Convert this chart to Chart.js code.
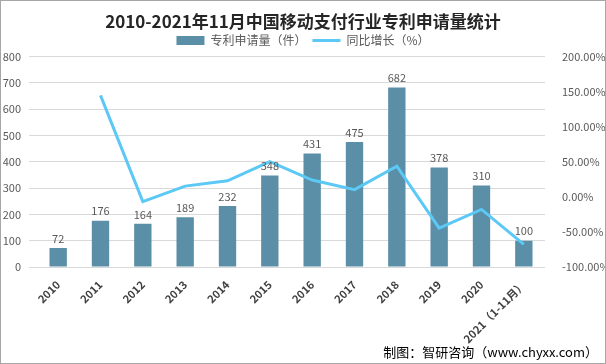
<!DOCTYPE html>
<html>
<head>
<meta charset="utf-8">
<script src="https://cdn.jsdelivr.net/npm/chart.js@4/dist/chart.umd.min.js"></script>
<style>
  html, body { margin: 0; padding: 0; background: #fff; }
  #wrap { width: 606px; height: 364px; }
</style>
</head>
<body>
<div id="wrap"><canvas id="myChart" width="606" height="364"></canvas></div>
<script>
// 数据
var years = ['2010', '2011', '2012', '2013', '2014', '2015', '2016', '2017', '2018', '2019', '2020', '2021（1-11月）'];
var shenqing = [72, 176, 164, 189, 232, 348, 431, 475, 682, 378, 310, 100];
var zengzhang = [null, 144.44, -6.82, 15.24, 22.75, 50.00, 23.85, 10.21, 43.58, -44.57, -17.99, -67.74];

var fontCN = '"Noto Sans CJK SC", "Noto Sans", sans-serif';

// 柱子上的数值
var etiquetas = {
  id: 'etiquetas',
  afterDatasetsDraw: function (chart) {
    var ctx = chart.ctx;
    var meta = chart.getDatasetMeta(1);
    ctx.save();
    ctx.fillStyle = '#595959';
    ctx.font = '11px ' + fontCN;
    ctx.textAlign = 'center';
    ctx.textBaseline = 'bottom';
    meta.data.forEach(function (bar, i) {
      ctx.fillText(shenqing[i], bar.x, bar.y - 4);
    });
    ctx.restore();
  }
};

// 边框和来源
var marco = {
  id: 'marco',
  afterDraw: function (chart) {
    var ctx = chart.ctx;
    ctx.save();
    ctx.strokeStyle = '#a6a6a6';
    ctx.lineWidth = 1;
    ctx.strokeRect(0.5, 0.5, chart.width - 1, chart.height - 1);
    ctx.fillStyle = '#000';
    ctx.font = '13px ' + fontCN;
    ctx.textAlign = 'right';
    ctx.textBaseline = 'middle';
    ctx.fillText('制图：智研咨询（www.chyxx.com）', 598, 352);
    ctx.restore();
  }
};

new Chart('myChart', {
  type: 'bar',
  data: {
    labels: years,
    datasets: [{
      type: 'line',
      label: '同比增长（%）',
      data: zengzhang,
      yAxisID: 'y1',
      borderColor: '#5bc8f5',
      backgroundColor: '#5bc8f5',
      borderWidth: 3,
      pointRadius: 0,
      pointHoverRadius: 0,
      pointBorderWidth: 3,
      pointStyle: 'line',
      tension: 0,
      order: 0
    }, {
      type: 'bar',
      label: '专利申请量（件）',
      data: shenqing,
      yAxisID: 'y',
      backgroundColor: '#5b8fa7',
      pointStyle: 'rect',
      barPercentage: 0.41,
      categoryPercentage: 1,
      order: 1
    }]
  },
  options: {
    responsive: false,
    animation: false,
    layout: { padding: { top: 0, right: 0, left: 0, bottom: 0 } },
    plugins: {
      title: {
        display: true,
        text: '2010-2021年11月中国移动支付行业专利申请量统计',
        color: '#262626',
        font: { family: fontCN, size: 17, weight: 'bold' },
        padding: { top: 11, bottom: -3 }
      },
      legend: {
        display: true,
        reverse: true,
        labels: {
          usePointStyle: true,
          pointStyleWidth: 28,
          boxHeight: 9,
          color: '#595959',
          font: { family: fontCN, size: 12 },
          padding: 6
        }
      },
      tooltip: { enabled: false }
    },
    scales: {
      x: {
        grid: { display: false },
        border: { display: false },
        afterFit: function (scale) { scale.height = 97; },
        ticks: {
          minRotation: 45,
          maxRotation: 45,
          autoSkip: false,
          color: '#404040',
          font: { family: fontCN, size: 11, weight: 'bold' }
        }
      },
      y: {
        position: 'left',
        min: 0,
        max: 800,
        afterFit: function (scale) { scale.width = 37; },
        grid: { color: '#d9d9d9' },
        border: { display: false },
        ticks: {
          stepSize: 100,
          padding: 8,
          color: '#595959',
          font: { family: fontCN, size: 11 }
        }
      },
      y1: {
        position: 'right',
        min: -100,
        max: 200,
        afterFit: function (scale) { scale.width = 61; },
        grid: { drawOnChartArea: false, display: false },
        border: { display: false },
        ticks: {
          stepSize: 50,
          padding: 9,
          color: '#595959',
          font: { family: fontCN, size: 11 },
          callback: function (v) { return v.toFixed(2) + '%'; }
        }
      }
    }
  },
  plugins: [etiquetas, marco]
});
</script>
</body>
</html>
